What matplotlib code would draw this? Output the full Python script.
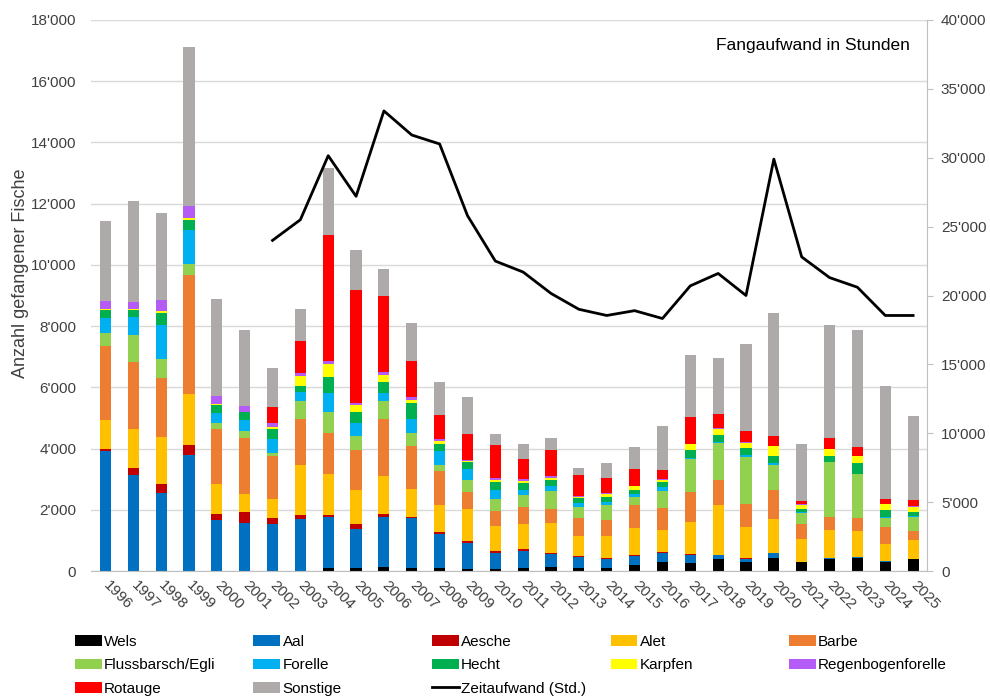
import numpy as np
import matplotlib
matplotlib.use('Agg')
import matplotlib.pyplot as plt
from matplotlib.ticker import FuncFormatter
from matplotlib.patches import Patch
from matplotlib.lines import Line2D

plt.rcParams['font.family'] = ['Liberation Sans', 'DejaVu Sans']

years = list(range(1996, 2026))
line_years = list(range(2002, 2026))

# Fangzahlen pro Art (Anzahl Fische)
wels = [0, 0, 0, 0, 0, 0, 0, 0, 90, 90, 140, 110, 110, 70, 80, 100, 130, 90, 100, 190,
        290, 260, 400, 280, 420, 280, 400, 440, 310, 380]
aal = [3920, 3150, 2550, 3800, 1670, 1580, 1540, 1700, 1670, 1290, 1630, 1610, 1100, 850, 510,
       550, 440, 370, 290, 310, 300, 250, 110, 120, 160, 10, 10, 10, 10, 10]
aesche = [80, 210, 290, 330, 180, 340, 200, 130, 60, 140, 100, 60, 80, 60, 80, 60, 20, 20, 20, 20,
          20, 50, 10, 20, 20, 0, 0, 0, 0, 0]
alet = [930, 1270, 1540, 1660, 990, 610, 620, 1630, 1350, 1120, 1240, 910, 870, 1040, 790, 830,
        980, 650, 740, 870, 730, 1030, 1640, 1020, 1090, 760, 930, 870, 570, 620]
barbe = [2430, 2190, 1940, 3870, 1810, 1810, 1400, 1500, 1330, 1320, 1840, 1390, 1110, 560, 490,
         540, 450, 590, 520, 770, 730, 990, 800, 750, 950, 480, 420, 410, 560, 300]
flussbarsch = [410, 890, 590, 360, 200, 250, 110, 580, 680, 440, 590, 440, 190, 380, 410, 410,
               600, 370, 490, 260, 530, 1080, 1220, 1540, 820, 370, 1790, 1430, 290, 450]
forelle = [500, 600, 1120, 1120, 320, 330, 440, 300, 630, 420, 270, 430, 470, 360, 280, 150,
           150, 120, 110, 110, 150, 40, 50, 50, 80, 20, 20, 20, 20, 40]
hecht = [250, 230, 410, 340, 240, 260, 330, 210, 530, 390, 350, 540, 220, 240, 260, 230, 210, 160,
         150, 130, 160, 240, 200, 250, 220, 120, 190, 350, 240, 120]
karpfen = [50, 20, 60, 50, 50, 30, 50, 330, 410, 220, 250, 110, 90, 30, 60, 70, 60, 50, 110, 110,
           70, 200, 210, 150, 310, 120, 220, 220, 180, 170]
regenbogenforelle = [240, 220, 340, 400, 260, 170, 140, 100, 110, 50, 90, 90, 80, 40, 80, 50, 50,
                     30, 20, 20, 40, 20, 20, 40, 30, 20, 10, 10, 10, 20]
rotauge = [0, 0, 0, 0, 0, 0, 540, 1030, 4110, 3710, 2470, 1180, 790, 850, 1080, 670, 860, 680,
           500, 530, 270, 860, 480, 340, 310, 100, 360, 280, 170, 220]
sonstige = [2630, 3310, 2840, 5200, 3160, 2500, 1270, 1040, 2190, 1300, 900, 1230, 1060, 1210, 370,
            490, 410, 240, 470, 720, 1450, 2030, 1810, 2840, 4020, 1860, 3680, 3820, 3670, 2750]

# Fangaufwand in Stunden
zeitaufwand = [24000, 25500, 30150, 27200, 33400, 31650, 31000, 25800, 22500, 21700, 20150, 19000,
               18550, 18900, 18330, 20700, 21600, 20000, 29900, 22800, 21300, 20600, 18550, 18550]

series = [
    ('Wels', wels, '#000000'),
    ('Aal', aal, '#0070C0'),
    ('Aesche', aesche, '#C00000'),
    ('Alet', alet, '#FFC000'),
    ('Barbe', barbe, '#ED7D31'),
    ('Flussbarsch/Egli', flussbarsch, '#92D050'),
    ('Forelle', forelle, '#00B0F0'),
    ('Hecht', hecht, '#00B050'),
    ('Karpfen', karpfen, '#FFFF00'),
    ('Regenbogenforelle', regenbogenforelle, '#B55CF7'),
    ('Rotauge', rotauge, '#FF0000'),
    ('Sonstige', sonstige, '#AEAAAA'),
]

fig = plt.figure(figsize=(9.9, 6.99), dpi=100)
ax = fig.add_axes([0.0924, 0.1831, 0.8440, 0.7883])

x = np.arange(len(years))
bottom = np.zeros(len(years))
for name, vals, col in series:
    vals = np.array(vals, dtype=float)
    ax.bar(x, vals, 0.4, bottom=bottom, color=col, linewidth=0, zorder=2)
    bottom += vals

fmt = FuncFormatter(lambda v, p: f"{int(v):,}".replace(',', "'"))

ax.set_xlim(-0.5, len(years) - 0.5)
ax.set_ylim(0, 18000)
ax.set_yticks(np.arange(0, 18001, 2000))
ax.yaxis.set_major_formatter(fmt)
ax.grid(axis='y', color='#D9D9D9', linewidth=1)
ax.set_axisbelow(True)
ax.set_xticks(x)
ax.set_xticklabels([str(y) for y in years], rotation=-45, ha='left', va='center',
                   rotation_mode='anchor')
ax.tick_params(axis='x', length=0, pad=9, labelsize=11, labelcolor='#404040')
ax.tick_params(axis='y', length=0, pad=11, labelsize=11, labelcolor='#404040')
for s in ['top', 'left', 'right']:
    ax.spines[s].set_visible(False)
ax.spines['bottom'].set_color('#BFBFBF')
ax.set_ylabel('Anzahl gefangener Fische', fontsize=13, color='#404040')
ax.yaxis.set_label_coords(-0.075, 0.54)

ax2 = ax.twinx()
ax2.plot([years.index(y) for y in line_years], zeitaufwand, color='black', lw=2, zorder=3)
ax2.set_ylim(0, 40000)
ax2.set_yticks(np.arange(0, 40001, 5000))
ax2.yaxis.set_major_formatter(fmt)
ax2.tick_params(axis='y', length=4, pad=6, labelsize=11, labelcolor='#404040', color='#BFBFBF')
for s in ['top', 'left', 'bottom']:
    ax2.spines[s].set_visible(False)
ax2.spines['right'].set_color('#BFBFBF')
ax2.text(0.98, 0.967, 'Fangaufwand in Stunden', transform=ax2.transAxes, ha='right', va='top',
         fontsize=12.5, color='black')

# Legende: 5 Spalten mit gleichem Abstand wie im Original
handles = {name: Patch(facecolor=col, edgecolor='none') for name, vals, col in series}
handles['Zeitaufwand (Std.)'] = Line2D([0], [0], color='black', lw=2)
columns = [
    ['Wels', 'Flussbarsch/Egli', 'Rotauge'],
    ['Aal', 'Forelle', 'Sonstige'],
    ['Aesche', 'Hecht', 'Zeitaufwand (Std.)'],
    ['Alet', 'Karpfen'],
    ['Barbe', 'Regenbogenforelle'],
]
for i, names in enumerate(columns):
    fig.legend([handles[n] for n in names], names, loc='upper left',
               bbox_to_anchor=((75 + 178.5 * i) / 990, 1 - 635 / 699), frameon=False,
               fontsize=11, handlelength=1.75, handleheight=0.7, handletextpad=0.15,
               labelspacing=0.61, borderpad=0, borderaxespad=0)

fig.savefig('out.png', dpi=100)
